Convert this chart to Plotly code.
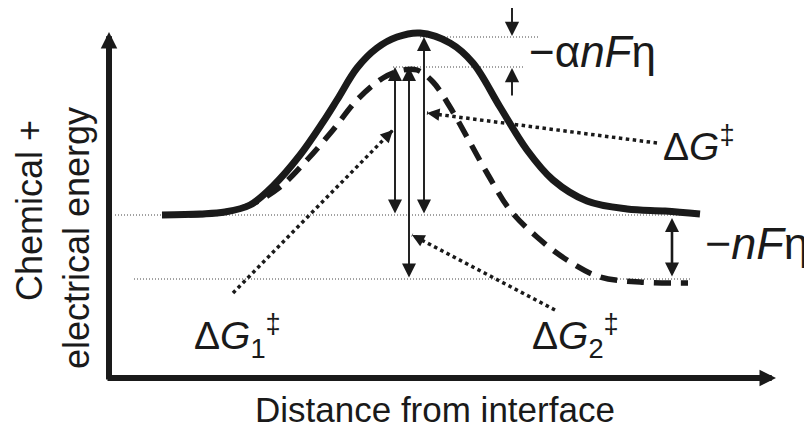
import math
import plotly.graph_objects as go

# ---------------- data (diagram coordinates; y grows downward = lower energy) ----------------
# solid curve: energy profile with the overpotential applied
solid_x = [162, 200, 225, 250, 273, 300, 323, 337, 357, 377, 397, 420, 450, 473, 500, 527, 553, 587, 627, 665, 700]
solid_y = [215, 214, 212, 205, 186, 155, 122, 100, 68, 48, 37, 33, 43, 63, 107, 150, 180, 201, 209, 211, 214]
# dashed curve: profile at equilibrium
dashed_x = [162, 220, 250, 280, 307, 333, 357, 383, 403, 417, 433, 450, 467, 487, 510, 537, 567, 600, 640, 688]
dashed_y = [215, 213, 205, 187, 160, 130, 100, 78, 70, 70, 82, 107, 137, 173, 210, 237, 260, 277, 282, 283]

# reference levels (dotted guide lines): y, x start, x end
level_y = [215, 279, 37, 67]
level_x0 = [115, 134, 420, 393]
level_x1 = [700, 690, 538, 523]

# double-headed vertical arrows: x, y top, y bottom
darrow_x = [395, 409, 424, 672]
darrow_top = [67, 67, 37, 218]
darrow_bot = [215, 279, 215, 278]
darrow_w = [1.9, 1.9, 1.9, 2.6]

# single arrows for the -alpha n F eta gap: tail y, head y
sarrow_x = [512, 512]
sarrow_tail = [5, 97]
sarrow_head = [36, 68]

# dotted pointer lines: start (near label) and tip (at arrow)
ptr_x0 = [657, 233, 555]
ptr_y0 = [143, 293, 310]
ptr_x1 = [427, 393, 412]
ptr_y1 = [113, 130, 235]

# text labels
label_text = ["\u2212\u03b1<i>nF</i>\u03b7", "\u0394<i>G</i><sup>\u2021</sup>",
              "\u0394<i>G</i><sub>1</sub><sup>\u2021</sup>", "\u0394<i>G</i><sub>2</sub><sup>\u2021</sup>",
              "\u2212<i>nF</i>\u03b7"]
label_x = [527, 661, 192, 530, 703]
label_y = [51, 143, 336, 336, 243]
label_size = [44, 39, 39, 39, 45]

x_title = "Distance from interface"
y_title = ["Chemical +", "electrical energy"]

# axes corners
axis_origin = (109, 378)
axis_ytop = 32
axis_xend = 776

FONT = "Liberation Sans, Arial, Helvetica, sans-serif"
INK = "#1a1a1a"
PAGE_MARGIN = 8  # default body margin of the html page

fig = go.Figure()

# guide levels
for y, x0, x1 in zip(level_y, level_x0, level_x1):
    fig.add_trace(go.Scatter(x=[x0, x1], y=[y, y], mode="lines",
                             line=dict(color="#444", width=1, dash="1px,2px"),
                             hoverinfo="skip", showlegend=False))

# pointer dotted lines
for x0, y0, x1, y1 in zip(ptr_x0, ptr_y0, ptr_x1, ptr_y1):
    fig.add_trace(go.Scatter(x=[x0, x1], y=[y0, y1], mode="lines",
                             line=dict(color=INK, width=3.5, dash="3.5px,3.5px"),
                             hoverinfo="skip", showlegend=False))

# curves
fig.add_trace(go.Scatter(x=dashed_x, y=dashed_y, mode="lines",
                         line=dict(color=INK, width=5.5, dash="17px,10px", shape="spline", smoothing=1.0),
                         hoverinfo="skip", showlegend=False))
fig.add_trace(go.Scatter(x=solid_x, y=solid_y, mode="lines",
                         line=dict(color=INK, width=7, shape="spline", smoothing=1.0),
                         hoverinfo="skip", showlegend=False))

ann = []
# axes with arrowheads
ox, oy = axis_origin
ann.append(dict(x=ox, y=axis_ytop, ax=ox, ay=oy + 3, xref="x", yref="y", axref="x", ayref="y",
                text="", showarrow=True, arrowhead=2, arrowsize=0.55, arrowwidth=6,
                arrowcolor=INK, standoff=0))
ann.append(dict(x=axis_xend, y=oy, ax=ox - 3, ay=oy, xref="x", yref="y", axref="x", ayref="y",
                text="", showarrow=True, arrowhead=2, arrowsize=0.55, arrowwidth=6,
                arrowcolor=INK, standoff=0))

# double arrows
for x, yt, yb, w in zip(darrow_x, darrow_top, darrow_bot, darrow_w):
    ann.append(dict(x=x, y=yt, ax=x, ay=yb, xref="x", yref="y", axref="x", ayref="y",
                    text="", showarrow=True, arrowhead=2, startarrowhead=2, arrowside="end+start",
                    arrowsize=2.8 / w, startarrowsize=2.8 / w, arrowwidth=w, arrowcolor=INK,
                    standoff=0, startstandoff=0))
# single arrows
for x, yt, yh in zip(sarrow_x, sarrow_tail, sarrow_head):
    ann.append(dict(x=x, y=yh, ax=x, ay=yt, xref="x", yref="y", axref="x", ayref="y",
                    text="", showarrow=True, arrowhead=2, arrowsize=1.5, arrowwidth=1.9,
                    arrowcolor=INK, standoff=0))
# pointer heads
for x0, y0, x1, y1 in zip(ptr_x0, ptr_y0, ptr_x1, ptr_y1):
    L = math.hypot(x0 - x1, y0 - y1)
    tx, ty = x1 + (x0 - x1) * 12 / L, y1 + (y0 - y1) * 12 / L
    ann.append(dict(x=x1, y=y1, ax=tx, ay=ty, xref="x", yref="y", axref="x", ayref="y",
                    text="", showarrow=True, arrowhead=2, arrowsize=1.0, arrowwidth=2.5,
                    arrowcolor=INK, standoff=0))

# labels
for t, x, y, s in zip(label_text, label_x, label_y, label_size):
    ann.append(dict(x=x, y=y, xref="x", yref="y", text=t, showarrow=False,
                    xanchor="left", yanchor="middle", font=dict(family=FONT, size=s, color=INK)))

ann.append(dict(x=435, y=409, xref="x", yref="y", text=x_title, showarrow=False,
                xanchor="center", yanchor="middle", font=dict(family=FONT, size=35, color=INK)))
ann.append(dict(x=29, y=211, xref="x", yref="y", text=y_title[0], showarrow=False, textangle=-90,
                xanchor="center", yanchor="middle", font=dict(family=FONT, size=36, color=INK)))
ann.append(dict(x=76, y=238, xref="x", yref="y", text=y_title[1], showarrow=False, textangle=-90,
                xanchor="center", yanchor="middle", font=dict(family=FONT, size=36, color=INK)))

W, H = 812, 429
fig.update_layout(
    width=W - PAGE_MARGIN, height=H - PAGE_MARGIN,
    margin=dict(l=0, r=0, t=0, b=0),
    paper_bgcolor="white", plot_bgcolor="white",
    xaxis=dict(range=[PAGE_MARGIN, W], visible=False, fixedrange=True),
    yaxis=dict(range=[H, PAGE_MARGIN], visible=False, fixedrange=True),
    annotations=ann,
    showlegend=False,
)

fig.write_html("out.html", config={"displayModeBar": False})
